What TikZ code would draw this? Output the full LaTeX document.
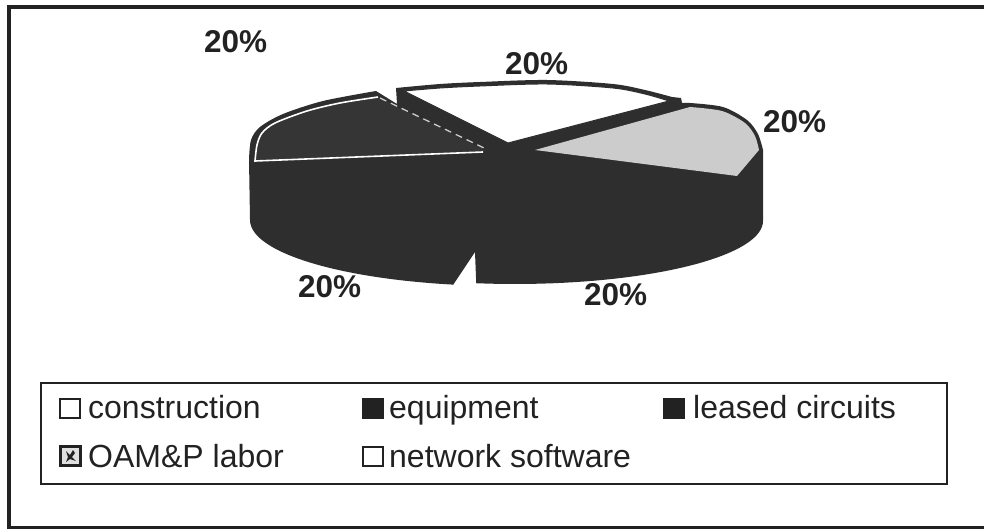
\documentclass[tikz,border=0pt]{standalone}
\usepackage{fontspec}
\setmainfont{Liberation Sans}
\definecolor{piedark}{HTML}{2E2E2E}
\definecolor{piegray}{HTML}{CCCCCC}
\definecolor{oamdark}{HTML}{353535}
\definecolor{inkblk}{HTML}{222222}
\begin{document}
\begin{tikzpicture}[x=1pt,y=-1pt,
  pielabel/.style={font=\fontsize{31.5}{36}\selectfont\bfseries, text=inkblk, inner sep=0pt, anchor=base west},
  legtext/.style={font=\fontsize{32}{38}\selectfont, text=inkblk, inner sep=0pt, anchor=base west},
  legbox/.style={draw=inkblk, line width=2pt, minimum width=20pt, minimum height=19pt, inner sep=0pt, anchor=south west},
  frameline/.style={draw=inkblk, line width=4pt},
]
\useasboundingbox (0,0) rectangle (984,529);

% outer frame (right side lies beyond the picture)
\draw[frameline] (990,7) -- (9,7) -- (9,530);
\draw[draw=inkblk, line width=2.5pt] (9,527.5) -- (990,527.5);

% pie body (dark sides and dark faces)
\fill[piedark] plot[smooth] coordinates {(249,160) (251,140) (260,127) (283,114) (323,101) (376,91)}
  -- (397,104) -- (396,88)
  -- plot[smooth] coordinates {(396,88) (440,84) (480,82) (547,80) (613,84) (645,90) (672,97)}
  -- (681,98) -- (682,103) -- (690,103)
  -- plot[smooth] coordinates {(690,103) (723,107) (747,120) (758,134) (763,150)}
  -- (763,221)
  -- plot[domain=0:99, samples=40] ({515+248*cos(\x)},{221+63*sin(\x)})
  -- (475,252) -- (453,285)
  -- plot[domain=101.8:180, samples=40] ({505+255*cos(\x)},{220+66*sin(\x)})
  -- cycle;

% white top slice (exploded)
\filldraw[fill=white, draw=piedark, line width=1pt] (508,143)
  -- plot[smooth] coordinates {(404,91) (440,88) (480,86) (547,84) (613,88) (645,94) (669,101)} -- cycle;

% light grey slice on the right
\fill[piegray] (535,150) -- (690,107)
  -- plot[smooth] coordinates {(690,107) (722,111) (745,123) (755,136) (759,150)}
  -- (737,176) -- cycle;

% OAM&P slice face (dark with white rim)
\fill[oamdark] (255,160) -- (486,151) -- (378,97)
  -- plot[smooth] coordinates {(378,97) (340,103) (307,111) (275,123) (262,133) (257,145) (255,160)} -- cycle;
\draw[white, line width=1.6pt] (483,152) -- (255,161)
  -- plot[smooth] coordinates {(255,161) (257,145) (262,133) (275,123) (307,111) (340,103) (378,97)};
\draw[white!80!black, line width=1.3pt, dash pattern=on 7pt off 5pt] (380,98) -- (484,148);

% percentage labels
\node[pielabel] (p1) at (204,53) {20\%};
\node[pielabel] (p2) at (505,75) {20\%};
\node[pielabel] (p3) at (763,133) {20\%};
\node[pielabel] (p4) at (298,297) {20\%};
\node[pielabel] (p5) at (584,305) {20\%};

% legend
\draw[draw=inkblk, line width=2.2pt] (41,383) rectangle (947,484);
\node[legbox, fill=white] (kcon) at (59,419) {};
\node[legtext] (tcon) at (88,418) {construction};
\node[legbox, fill=inkblk] (kequ) at (362,419) {};
\node[legtext] (tequ) at (389,418) {equipment};
\node[legbox, fill=inkblk] (klea) at (663,419) {};
\node[legtext] (tlea) at (693,418) {leased circuits};
\node[legbox, fill=black!12, line width=2.6pt] (koam) at (59,467) {};
\fill[inkblk] (66,451) -- (70,455) -- (73,450) -- (75,453) -- (72,457) -- (76,461) -- (70,459) -- (66,462) -- (68,457) -- cycle;
\node[legtext] (toam) at (88,467) {OAM\&P labor};
\node[legbox, fill=white] (knet) at (362,467) {};
\node[legtext] (tnet) at (389,467) {network software};
\end{tikzpicture}
\end{document}
